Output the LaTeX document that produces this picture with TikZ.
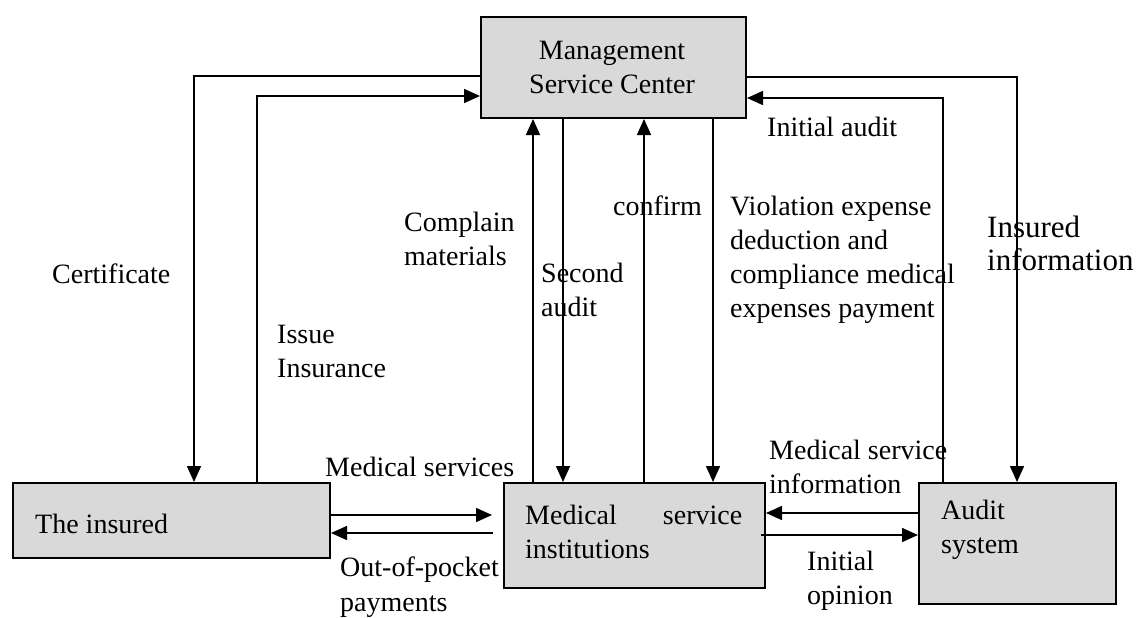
\documentclass[tikz,border=0pt]{standalone}
\usepackage{fontspec}
\setmainfont{Liberation Serif}
\usetikzlibrary{arrows.meta}
\begin{document}
\begin{tikzpicture}[x=1pt,y=-1pt,
  box/.style={draw=black,line width=2pt,fill=boxgray,inner sep=0pt,anchor=north west},
  arr/.style={line width=1.6pt,-{Triangle[length=16pt,width=14pt]}},
  txt/.style={inner sep=0pt,anchor=base west,align=left,font=\fontsize{28}{34}\selectfont},
  bigtxt/.style={txt,font=\fontsize{31}{33}\selectfont}]
\definecolor{boxgray}{HTML}{D9D9D9}
\useasboundingbox (0,0) rectangle (1140,618);

% boxes
\node[box,minimum width=265pt,minimum height=101pt] (msc) at (480,16) {};
\node[box,minimum width=317pt,minimum height=75pt]  (ins) at (12,482) {};
\node[box,minimum width=261pt,minimum height=105pt] (med) at (503,482) {};
\node[box,minimum width=197pt,minimum height=121pt] (aud) at (918,482) {};

% box texts (a multi-line node sits on the baseline of its last line)
\node[txt,anchor=base,align=center] (mscT) at (612,93) {Management\\Service Center};
\node[txt] (insT) at (35,533) {The insured};
\node[txt] (medT) at (525,558) {\hbox to 217pt{Medical\hfil service}\\institutions};
\node[txt] (audT) at (941,553) {Audit\\system};

% connectors
\draw[arr] (msc.west |- 0,76) -| (ins.north -| 194,0);
\draw[arr] (ins.north -| 257,0) |- (msc.west |- 0,96);
\draw[arr] (med.north -| 533,0) -- (msc.south -| 533,0);
\draw[arr] (msc.south -| 563,0) -- (med.north -| 563,0);
\draw[arr] (med.north -| 644,0) -- (msc.south -| 644,0);
\draw[arr] (msc.south -| 713,0) -- (med.north -| 713,0);
\draw[arr] (aud.north -| 943,0) |- (msc.east |- 0,98);
\draw[arr] (msc.east |- 0,77) -| (aud.north -| 1017,0);
\coordinate (msEnd) at (492,515);
\draw[arr] (ins.east |- 0,515) -- (msEnd);
\coordinate (oopStart) at (493,533);
\draw[arr] (oopStart) -- (ins.east |- 0,533);
\draw[arr] (aud.west |- 0,513) -- (med.east |- 0,513);
\coordinate (ioStart) at (761,535);
\draw[arr] (ioStart) -- (aud.west |- 0,535);

% connector labels
\node[txt] (lCert) at (52,283) {Certificate};
\node[txt] (lIssue) at (277,377) {Issue\\Insurance};
\node[txt] (lCompl) at (404,265) {Complain\\materials};
\node[txt] (lMedS) at (325,476) {Medical services};
\node[txt] (lSec) at (541,316) {Second\\audit};
\node[txt] (lConf) at (613,215) {confirm};
\node[txt] (lViol) at (730,317) {Violation expense\\deduction and\\compliance medical\\expenses payment};
\node[txt] (lInit) at (767,136) {Initial audit};
\node[bigtxt] (lInsI) at (987,270) {Insured\\information};
\node[txt] (lMSI) at (769,493) {Medical service\\information};
\node[txt] (lOpin) at (807,604) {Initial\\opinion};
\node[txt,font=\fontsize{28}{35}\selectfont] (lOOP) at (340,611) {Out-of-pocket\\payments};
\end{tikzpicture}
\end{document}
